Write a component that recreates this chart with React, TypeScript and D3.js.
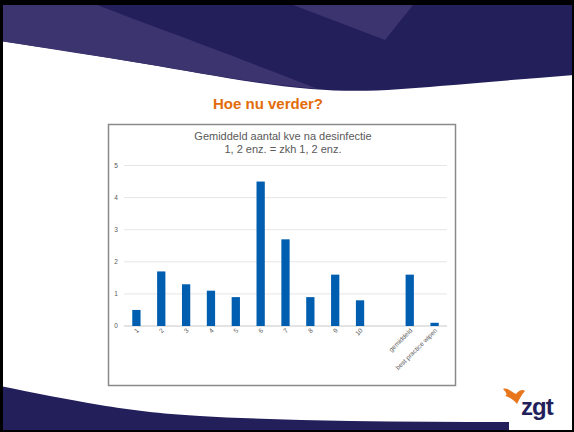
import React, { useEffect, useRef } from 'react';
import * as d3 from 'd3';

// chart data
const categories = ['1', '2', '3', '4', '5', '6', '7', '8', '9', '10', '', 'gemiddeld', 'best practice wipen'];
const values: (number | null)[] = [0.5, 1.7, 1.3, 1.1, 0.9, 4.5, 2.7, 0.9, 1.6, 0.8, null, 1.6, 0.1];
const yTicks = [0, 1, 2, 3, 4, 5];
const titleLines = ['Gemiddeld aantal kve na desinfectie', '1, 2 enz. = zkh 1, 2 enz.'];

const navy = '#231f5b';
const purple = '#3c346f';

const App: React.FC = () => {
  const ref = useRef<SVGSVGElement | null>(null);

  useEffect(() => {
    const W = 574;
    const H = 432;
    const svg = d3.select(ref.current).attr('width', W).attr('height', H);
    svg.selectAll('*').remove();

    svg.append('rect').attr('width', W).attr('height', H).attr('fill', '#fff');

    // top swoosh
    const curve = d3.line().curve(d3.curveNatural);
    const topEdge: [number, number][] = [[0, 41], [146, 64], [311, 89], [440, 86], [574, 75]];
    svg.append('path')
      .attr('d', `M0,0 L574,0 L${curve(topEdge.slice().reverse())!.slice(1)} Z`)
      .attr('fill', navy);
    const lightTop: [number, number][] = [[84, 0], [150, 25], [230, 55], [318, 89]];
    const lightEdge: [number, number][] = [[0, 41], [146, 64], [250, 81], [318, 89]];
    svg.append('path')
      .attr('d', `M0,0 ${curve(lightTop)!.replace('M', 'L')} L${curve(lightEdge.slice().reverse())!.slice(1)} Z`)
      .attr('fill', purple);
    svg.append('path').attr('d', 'M280,0 L417,0 L385,40 Z').attr('fill', purple);

    // bottom band
    const botEdge: [number, number][] = [[0, 386], [100, 405], [200, 416], [350, 421], [509, 422]];
    svg.append('path')
      .attr('d', `${curve(botEdge)} L509,432 L0,432 Z`)
      .attr('fill', navy);

    // logo
    svg.append('path')
      .attr('d', 'M503,389 C508,387 512,393 516,394 C519,390 523,389 525,391 C522,394 520,398 517,404 C514,400 510,397 505,396 C508,395 506,392 503,389 Z')
      .attr('fill', '#e8761c');
    svg.append('text')
      .attr('x', 521).attr('y', 415)
      .attr('font-family', 'Liberation Sans, Arial, sans-serif')
      .attr('font-weight', 'bold')
      .attr('font-size', 24)
      .attr('letter-spacing', -1)
      .attr('fill', navy)
      .text('zgt');

    // slide frame
    svg.append('rect').attr('x', 0).attr('y', 0).attr('width', W).attr('height', 5).attr('fill', '#000');
    svg.append('rect').attr('x', 0).attr('y', 0).attr('width', 3).attr('height', H).attr('fill', '#000');
    svg.append('rect').attr('x', W - 2).attr('y', 0).attr('width', 2).attr('height', H).attr('fill', '#000');
    svg.append('rect').attr('x', 0).attr('y', H - 2).attr('width', W).attr('height', 2).attr('fill', '#000');

    // slide title
    svg.append('text')
      .attr('x', 268).attr('y', 109)
      .attr('text-anchor', 'middle')
      .attr('font-family', 'Liberation Sans, Arial, sans-serif')
      .attr('font-weight', 'bold')
      .attr('font-size', 15)
      .attr('fill', '#e36c0a')
      .text('Hoe nu verder?');

    // chart box
    svg.append('rect')
      .attr('x', 108.5).attr('y', 124.5).attr('width', 347).attr('height', 261)
      .attr('fill', '#fff').attr('stroke', '#8a8a8a').attr('stroke-width', 1.5);

    svg.append('g').selectAll('text')
      .data(titleLines)
      .enter()
      .append('text')
      .attr('x', 283)
      .attr('y', (d, i) => 140 + i * 13)
      .attr('text-anchor', 'middle')
      .attr('font-family', 'Liberation Sans, Arial, sans-serif')
      .attr('font-size', 11)
      .attr('fill', '#595959')
      .text(d => d);

    const x = d3.scaleBand()
      .domain(categories)
      .range([124, 447])
      .paddingInner(0.667)
      .paddingOuter(0.333);
    const y = d3.scaleLinear().domain([0, 5]).range([326, 165.5]);

    svg.append('g').selectAll('line')
      .data(yTicks)
      .enter()
      .append('line')
      .attr('x1', 124).attr('x2', 447)
      .attr('y1', d => y(d)).attr('y2', d => y(d))
      .attr('stroke', d => (d === 0 ? '#c8c8c8' : '#e6e6e6'))
      .attr('stroke-width', 1);

    svg.append('g').selectAll('text')
      .data(yTicks)
      .enter()
      .append('text')
      .attr('x', 116)
      .attr('y', d => y(d))
      .attr('dy', '0.35em')
      .attr('text-anchor', 'middle')
      .attr('font-family', 'Liberation Sans, Arial, sans-serif')
      .attr('font-size', 6.5)
      .attr('fill', '#595959')
      .text(d => d);

    const data = categories.map((c, i) => ({ c, v: values[i] }));

    svg.append('g').selectAll('rect')
      .data(data.filter(d => d.v !== null))
      .enter()
      .append('rect')
      .attr('x', d => x(d.c)!)
      .attr('y', d => y(d.v as number))
      .attr('width', x.bandwidth())
      .attr('height', d => y(0) - y(d.v as number))
      .attr('fill', '#005eb0');

    svg.append('g').selectAll('text')
      .data(data.filter(d => d.c !== ''))
      .enter()
      .append('text')
      .attr('transform', d => `translate(${x(d.c)! + x.bandwidth() / 2 + 3},${331}) rotate(-45)`)
      .attr('text-anchor', 'end')
      .attr('font-family', 'Liberation Sans, Arial, sans-serif')
      .attr('font-size', 6.5)
      .attr('fill', '#595959')
      .text(d => d.c);
  }, []);

  return <svg ref={ref} style={{ position: 'absolute', left: 0, top: 0 }}></svg>;
};

export default App;
